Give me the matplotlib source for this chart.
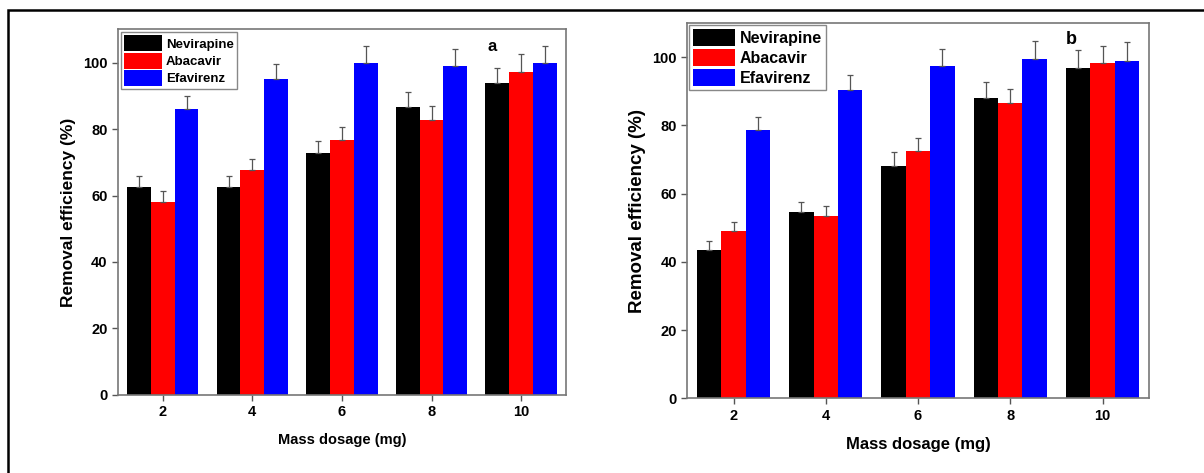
import numpy as np
import matplotlib.pyplot as plt
from matplotlib.patches import Rectangle

plt.rcParams['font.family'] = ['Liberation Sans', 'DejaVu Sans']
plt.rcParams['font.weight'] = 'bold'

dosage = [2, 4, 6, 8, 10]
drugs = ['Nevirapine', 'Abacavir', 'Efavirenz']
colors = ['#000000', '#ff0000', '#0000ff']

# panel a
a_nev = [62.5, 62.5, 72.9, 86.7, 93.8]
a_aba = [58.0, 67.6, 76.7, 82.8, 97.3]
a_efa = [86.0, 95.0, 99.9, 99.1, 100.0]
a_nev_err = [3.3, 3.3, 3.6, 4.4, 4.6]
a_aba_err = [3.5, 3.5, 3.9, 4.0, 5.3]
a_efa_err = [4.0, 4.6, 5.0, 5.0, 5.0]

# panel b
b_nev = [43.4, 54.6, 68.1, 88.2, 97.0]
b_aba = [49.1, 53.4, 72.5, 86.5, 98.4]
b_efa = [78.6, 90.4, 97.5, 99.5, 98.9]
b_nev_err = [2.7, 3.0, 4.0, 4.5, 5.0]
b_aba_err = [2.6, 2.9, 3.8, 4.2, 5.0]
b_efa_err = [4.0, 4.4, 5.0, 5.2, 5.7]


def panel(ax, vals, errs, letter, letter_pos, sizes, leg):
    tick_fs, xl_fs, yl_fs, let_fs = sizes
    x = np.array(dosage)
    w = 0.53
    for i, (v, e) in enumerate(zip(vals, errs)):
        ax.bar(x + (i - 1) * w, v, width=w, color=colors[i], label=drugs[i],
               yerr=[np.zeros(len(e)), e], capsize=2.5,
               error_kw=dict(ecolor='#555555', elinewidth=0.9, capthick=0.9))
    ax.set_xlim(1.0, 11.0)
    ax.set_ylim(0, 110)
    ax.set_xticks(dosage)
    ax.set_yticks([0, 20, 40, 60, 80, 100])
    ax.tick_params(direction='out', length=4, width=1, labelsize=tick_fs, color='#555555')
    for s in ax.spines.values():
        s.set_color('#777777')
        s.set_linewidth(1.2)
    ax.set_xlabel('Mass dosage (mg)', fontsize=xl_fs, fontweight='bold', labelpad=10)
    ax.set_ylabel('Removal efficiency (%)', fontsize=yl_fs, fontweight='bold', labelpad=5)
    ax.text(letter_pos[0], letter_pos[1], letter, fontsize=let_fs, fontweight='bold')
    fs, hl, hh, ls, pad = leg
    lg = ax.legend(loc='upper left', handlelength=hl, handleheight=hh,
                   labelspacing=ls, handletextpad=0.3, borderpad=0.25,
                   borderaxespad=pad, fancybox=False, framealpha=1,
                   prop=dict(weight='bold', size=fs))
    lg.get_frame().set_edgecolor('#888888')


fig = plt.figure(figsize=(12.04, 4.73), dpi=100)
ax1 = fig.add_axes([0.098, 0.165, 0.372, 0.773])
ax2 = fig.add_axes([0.571, 0.158, 0.383, 0.793])

panel(ax1, [a_nev, a_aba, a_efa], [a_nev_err, a_aba_err, a_efa_err], 'a', (9.25, 103.5),
      (10.5, 10.5, 12.5, 12), (9.5, 2.9, 1.5, 0.1, 0.2))
panel(ax2, [b_nev, b_aba, b_efa], [b_nev_err, b_aba_err, b_efa_err], 'b', (9.2, 104.0),
      (10.5, 12, 13.5, 13), (11.5, 2.6, 1.25, 0.2, 0.1))

fig.patches.append(Rectangle((8 / 1204, -0.1), 1.2, 1 - 10 / 473 + 0.1,
                             transform=fig.transFigure, fill=False,
                             edgecolor='black', linewidth=1.8))

fig.savefig('out.png', dpi=100)
